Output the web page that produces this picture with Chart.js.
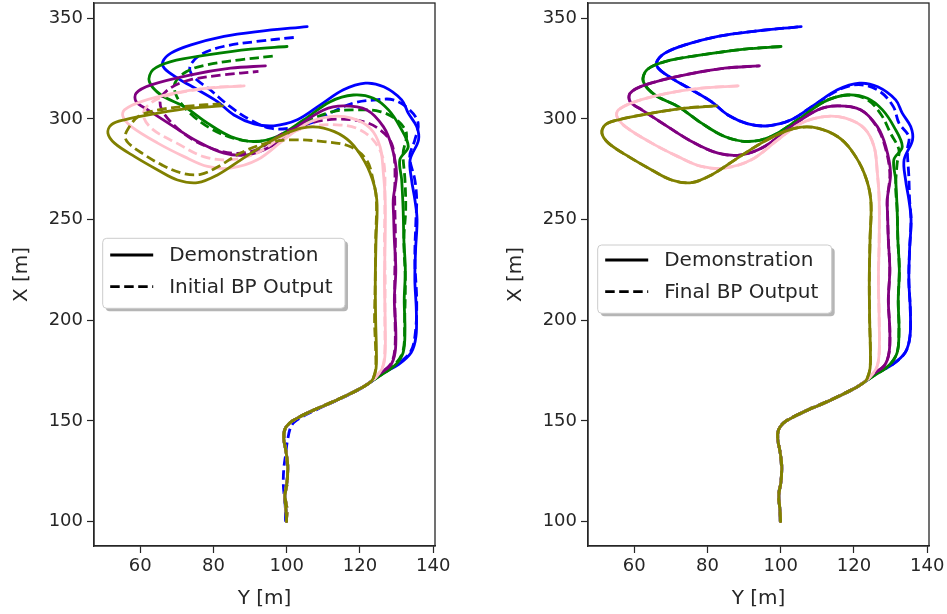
<!DOCTYPE html>
<html><head><meta charset="utf-8">
<script src="https://cdn.jsdelivr.net/npm/chart.js@4"></script>
<style>
html,body{margin:0;padding:0;background:#fff;}
#wrap{position:relative;width:947px;height:614px;overflow:hidden;}
canvas{position:absolute;top:0;}
</style></head><body>
<div id="wrap">
<canvas id="left" width="470" height="614" style="left:0px"></canvas>
<canvas id="right" width="453" height="614" style="left:494px"></canvas>
</div>
<script>
// Axis ticks
const xTicks = [60, 80, 100, 120, 140];          // horizontal axis "Y [m]"
const yTicks = [100, 150, 200, 250, 300, 350];   // vertical axis "X [m]"
const xRange = [47.4, 140.5];
const yRange = [87.9, 357.6];

// Points are [Y (horizontal), X (vertical)] in metres.
// Shared start (straight section + diagonal)
const baseDemo = [[100,100],[99.8,106],[99.5,113],[100.1,120],[100.3,128],[99.8,135],[99.2,141],[99.4,145.5],[100.8,149],[103.5,152],[107.5,155.5],[112,159],[116.5,162.8],[120.5,166.5],[123,169.5]];
const baseInit = [[99.9,100],[100.1,106],[99.6,113],[100.2,120],[100.2,128],[99.8,135],[99.3,141],[99.5,145.5],[100.9,149.1],[103.6,152.1],[107.5,155.5],[112,159.1],[116.5,162.8],[120.5,166.5],[123,169.5]];
const baseInitBlue = [[99.7,100],[99.6,108],[99.1,118],[99.2,126],[99.7,133],[100.2,140],[101.4,148],[104,151.8],[108,155.5],[112.3,159.1],[116.7,162.8],[120.6,166.5],[123.1,169.6]];
const baseFinal = [[99.9,100],[99.8,106],[99.4,113],[100.1,120],[100.2,128],[99.8,135],[99.2,141],[99.4,145.6],[100.8,149.1],[103.5,152.1],[107.5,155.6],[112,159.1],[116.5,162.9],[120.5,166.6],[123,169.6]];

// Demonstrations (upper part)
const demoBlue   = [[126,173.5],[130.5,178],[134,184],[135.3,192],[135.4,205],[135.0,220],[135.2,235],[135.6,250],[135.0,260],[134.1,269.8],[133.7,279.7],[136.0,289.6],[135.5,296.2],[133.2,302.9],[131.4,309.5],[126.5,316],[121.5,317.8],[115.5,314.5],[109.2,307.0],[102.9,299.6],[96.5,296.6],[91.1,297.6],[85.6,302.0],[81.1,308.6],[75.7,314.5],[70.2,320.3],[66.6,325.2],[66.2,328.5],[68.4,332.7],[73.9,336.8],[82.9,341.0],[92.0,343.4],[105.6,345.9]];
const demoGreen  = [[125.5,172.5],[129.5,177.5],[131.8,184],[132.3,195],[132.1,210],[132.4,225],[132.0,240],[131.8,255],[131.4,269.8],[130.9,279.7],[133.2,286.3],[130.9,296.2],[127.8,304.5],[123.7,310.3],[118.2,311.9],[111.9,308.6],[104.7,299.6],[97.4,291.3],[91.1,288.8],[84.7,291.3],[78.4,297.9],[72.0,306.2],[65.7,311.9],[62.5,318.6],[63.5,324.4],[68.4,328.5],[78.4,331.8],[90.2,334.7],[100.1,336.0]];
const demoPurple = [[125,173],[128.3,177.5],[129.6,184],[129.8,195],[129.4,210],[129.8,225],[129.4,240],[129.2,252],[129.1,260],[130.0,273.1],[128.7,286.3],[126.4,296.2],[121.9,304.5],[115.5,306.5],[110.1,304.5],[102.9,296.2],[95.6,286.3],[89.3,282.2],[82.9,283.0],[75.7,288.8],[68.4,297.1],[62.1,304.5],[58.9,308.6],[58.9,312.8],[63.0,316.9],[73.9,321.9],[84.7,325.2],[94.2,326.4]];
const demoPink   = [[124.5,172],[126.3,177],[126.9,184],[126.9,200],[126.7,220],[126.9,240],[126.9,260],[126.4,273.1],[125.5,286.3],[122.8,295.4],[117.7,300.4],[111.9,301.2],[105.6,297.9],[99.2,289.6],[92.0,279.7],[84.7,275.6],[78.4,276.4],[72.0,281.3],[64.8,288.0],[57.6,296.2],[55.3,301.2],[55.7,304.5],[60.3,308.6],[69.3,312.8],[78.4,315.3],[88.4,316.4]];
const demoOlive  = [[123.7,171.5],[124.4,176],[124.5,185],[124.3,200],[124.2,220],[124.4,240],[124.6,260],[122.8,273.1],[119.2,284.7],[115.5,291.3],[110.1,295.4],[105.6,295.9],[101.0,293.7],[94.7,288.0],[87.5,279.7],[81.1,272.2],[75.7,268.4],[70.2,269.7],[64.8,274.7],[58.5,281.3],[53.0,288.0],[51.2,292.9],[52.1,297.1],[55.7,299.6],[64.8,302.9],[73.9,305.4],[82.5,306.5]];

// Initial BP output (left panel, dashed)
const initBlue   = [[126,173.5],[130.5,178.5],[134,185],[135.2,195],[135.5,210],[135,230],[135.3,250],[135.5,260],[135.0,269.7],[133.6,281.3],[135.0,289.6],[135.9,297.9],[133.6,304.5],[129.1,309.5],[124.5,309.5],[118.2,307.9],[111.8,302.9],[106.4,297.9],[100.9,295.4],[95.5,295.4],[90.0,299.6],[84.5,306.2],[79.1,314.5],[74.5,321.1],[73.6,326.0],[76.4,331.8],[82.7,336.0],[91.8,338.5],[102.7,340.6]];
const initGreen  = [[125.5,172.5],[129.5,178],[131.8,185],[132.2,200],[132.4,220],[132.0,240],[132.5,255],[132.3,269.7],[131.8,283.0],[132.7,292.9],[130.0,299.6],[125.5,303.7],[119.1,304.5],[112.7,303.7],[105.5,298.7],[98.2,291.3],[91.8,288.8],[85.4,290.5],[79.1,295.4],[73.6,302.9],[70.0,311.1],[69.5,317.8],[72.7,323.6],[78.2,326.9],[87.3,329.4],[96.8,331.3]];
const initPurple = [[125,173],[128.3,178],[129.5,185],[129.6,200],[129.5,220],[129.7,240],[129.5,260],[129.5,278.0],[128.6,288.0],[125.5,294.6],[120.9,298.7],[113.6,299.9],[106.4,297.9],[99.1,292.9],[91.8,284.7],[85.4,283.0],[78.2,286.3],[71.8,292.9],[66.4,302.9],[65.5,309.5],[68.2,315.3],[73.6,319.4],[82.7,321.9],[92.3,323.6]];
const initPink   = [[124.5,172],[126.3,177.5],[126.8,185],[126.8,200],[126.9,220],[126.7,240],[126.8,260],[126.4,279.7],[123.6,289.6],[119.1,295.4],[113.6,297.1],[106.4,296.2],[99.1,291.3],[91.8,283.0],[84.5,279.7],[77.3,281.3],[70.0,288.0],[63.6,294.6],[60.9,301.2],[61.8,306.2],[66.4,311.1],[78.2,315.3],[87.7,316.4]];
const initOlive  = [[123.7,171.5],[124.3,176],[124.3,185],[124.0,200],[124.2,220],[124.3,240],[124.5,259.8],[123.6,269.7],[121.8,279.7],[117.3,286.3],[110.0,288.8],[100.9,289.6],[94.5,288.0],[87.3,283.0],[81.5,276.5],[76.5,272.5],[71.4,273.1],[65.9,277.2],[60.5,283.0],[56.8,288.0],[55.9,291.3],[56.8,295.4],[59.5,301.2],[65.0,304.5],[74.0,306.5],[82.0,307.5]];

// Final BP output (right panel, dashed)
const finalBlue   = [[126,173.5],[130.5,178],[134,184],[135.3,192],[135.4,205],[135.0,220],[135.2,235],[135.6,250],[135.2,260],[135.0,271.4],[134.6,284.7],[135.0,291.3],[132.3,297.9],[130.8,306],[127.2,313.5],[122,317],[116.5,315],[109.2,307.0],[102.9,299.6],[96.5,296.6],[91.1,297.6],[85.6,302.0],[81.1,308.6],[75.7,314.5],[70.2,320.3],[66.6,325.2],[66.2,328.5],[68.4,332.7],[73.9,336.8],[82.9,341.0],[92.0,343.4],[105.6,345.9]];
const finalGreen  = [[125.5,172.5],[129.5,177.5],[131.8,184],[132.3,195],[132.1,210],[132.4,225],[132.0,240],[131.8,255],[131.4,266.4],[131.8,278.0],[132.3,284.7],[130.0,292.9],[127.5,302],[123.7,309.5],[118.2,311.9],[111.9,308.6],[104.7,299.6],[97.4,291.3],[91.1,288.8],[84.7,291.3],[78.4,297.9],[72.0,306.2],[65.7,311.9],[62.5,318.6],[63.5,324.4],[68.4,328.5],[78.4,331.8],[90.2,334.7],[100.1,336.0]];
const finalPurple = [[125,173],[128.3,177.5],[129.6,184],[129.8,195],[129.4,210],[129.8,225],[129.4,240],[129.2,252],[129.1,260],[129.8,273.1],[128.5,286.3],[126.2,296.2],[121.9,304.5],[115.5,306.5],[110.1,304.5],[102.9,296.2],[95.6,286.3],[89.3,282.2],[82.9,283.0],[75.7,288.8],[68.4,297.1],[62.1,304.5],[58.9,308.6],[58.9,312.8],[63.0,316.9],[73.9,321.9],[84.7,325.2],[94.2,326.4]];
const finalPink   = [[124.5,172],[126.3,177],[126.9,184],[126.9,200],[126.7,220],[126.9,240],[126.9,260],[126.4,273.1],[125.5,286.3],[122.8,295.4],[117.7,300.4],[111.9,301.2],[105.6,297.9],[99.2,289.6],[92.0,279.7],[84.7,275.6],[78.4,276.4],[72.0,281.3],[64.8,288.0],[57.6,296.2],[55.3,301.2],[55.7,304.5],[60.3,308.6],[69.3,312.8],[78.4,315.3],[88.4,316.4]];
const finalOlive  = [[123.7,171.5],[124.4,176],[124.5,185],[124.3,200],[124.2,220],[124.4,240],[124.6,260],[122.8,273.1],[119.2,284.7],[115.5,291.3],[110.1,295.4],[105.6,295.9],[101.0,293.7],[94.7,288.0],[87.5,279.7],[81.1,272.2],[75.7,268.4],[70.2,269.7],[64.8,274.7],[58.5,281.3],[53.0,288.0],[51.2,292.9],[52.1,297.1],[55.7,299.6],[64.8,302.9],[73.9,305.4],[82.5,306.5]];

const colors = ['#0000ff', '#008000', '#800080', '#ffc0cb', '#808000'];
const legendLabels = ['Demonstration', 'Initial BP Output', 'Final BP Output'];
const axisTitles = ['Y [m]', 'X [m]'];

const FONT = 'DejaVu Sans';
const INK = '#262626';
const LW = 2.8;

function toPts(arr){ return arr.map(p => ({x:p[0], y:p[1]})); }

function buildDatasets(demos, outs, demoBase, outBases){
  const ds = [];
  for (let i = 0; i < colors.length; i++){
    ds.push({data: toPts(demoBase.concat(demos[i])), borderColor: colors[i], borderWidth: LW, borderCapStyle:'round', borderJoinStyle:'round'});
    ds.push({data: toPts(outBases[i].concat(outs[i])), borderColor: colors[i], borderWidth: LW, borderDash:[9.5,4.5], borderCapStyle:'butt', borderJoinStyle:'round'});
  }
  const n = ds.length;
  ds.forEach((d, k) => { d.order = n - k; d.showLine = true; d.pointRadius = 0; d.pointHoverRadius = 0; d.tension = 0.35; d.fill = false; });
  return ds;
}

const framePlugin = {
  id: 'frame',
  afterDatasetsDraw(chart){
    const a = chart.chartArea, ctx = chart.ctx;
    ctx.save();
    ctx.strokeStyle = INK; ctx.lineWidth = 1.3;
    ctx.strokeRect(a.left, a.top, a.right - a.left, a.bottom - a.top);
    ctx.restore();
  }
};

function legendPlugin(box, outLabel){
  return {
    id: 'boxLegend',
    afterDraw(chart){
      const ctx = chart.ctx;
      const {l, t, r, b, y1, y2} = box;
      ctx.save();
      function rr(x, y, w, h, rad){
        ctx.beginPath();
        ctx.moveTo(x + rad, y);
        ctx.lineTo(x + w - rad, y); ctx.quadraticCurveTo(x + w, y, x + w, y + rad);
        ctx.lineTo(x + w, y + h - rad); ctx.quadraticCurveTo(x + w, y + h, x + w - rad, y + h);
        ctx.lineTo(x + rad, y + h); ctx.quadraticCurveTo(x, y + h, x, y + h - rad);
        ctx.lineTo(x, y + rad); ctx.quadraticCurveTo(x, y, x + rad, y);
        ctx.closePath();
      }
      ctx.fillStyle = 'rgba(120,120,120,0.55)';
      rr(l + 3, t + 3, r - l, b - t, 4); ctx.fill();
      ctx.fillStyle = '#ffffff';
      rr(l, t, r - l, b - t, 4); ctx.fill();
      ctx.strokeStyle = '#cccccc'; ctx.lineWidth = 1;
      rr(l, t, r - l, b - t, 4); ctx.stroke();
      ctx.strokeStyle = '#000'; ctx.lineWidth = LW;
      ctx.beginPath(); ctx.moveTo(l + 7.5, y1); ctx.lineTo(l + 50.5, y1); ctx.stroke();
      ctx.setLineDash([9.5, 4.5]);
      ctx.beginPath(); ctx.moveTo(l + 7.5, y2); ctx.lineTo(l + 50.5, y2); ctx.stroke();
      ctx.setLineDash([]);
      ctx.fillStyle = INK; ctx.font = '20px "' + FONT + '"';
      ctx.textBaseline = 'middle'; ctx.textAlign = 'left';
      ctx.fillText(legendLabels[0], l + 66.5, y1 + 1);
      ctx.fillText(outLabel, l + 66.5, y2 + 1);
      ctx.restore();
    }
  };
}

function makeChart(id, canvasWidth, datasets, box, outLabel){
  const tickFont = {family: FONT, size: 18};
  const titleFont = {family: FONT, size: 20};
  return new Chart(document.getElementById(id), {
    type: 'scatter',
    data: {datasets},
    options: {
      responsive: false, animation: false,
      layout: {padding: {top: 3, right: canvasWidth - 435, left: 0, bottom: 0}},
      plugins: {legend: {display: false}, tooltip: {enabled: false}},
      scales: {
        x: {
          type: 'linear', min: xRange[0], max: xRange[1],
          afterBuildTicks: s => { s.ticks = xTicks.map(v => ({value: v})); },
          afterFit: s => { s.height = 68; s.paddingLeft = 0; s.paddingRight = 0; },
          ticks: {font: tickFont, color: INK, padding: 3, maxRotation: 0, autoSkip: false},
          grid: {drawOnChartArea: false, drawTicks: true, tickLength: 7, color: INK, tickWidth: 1.2},
          border: {display: true, color: INK, width: 1.3},
          title: {display: true, text: axisTitles[0], font: titleFont, color: INK, padding: {top: 0, bottom: 3}}
        },
        y: {
          type: 'linear', min: yRange[0], max: yRange[1],
          afterBuildTicks: s => { s.ticks = yTicks.map(v => ({value: v})); },
          afterFit: s => { s.width = 94; s.paddingTop = 0; s.paddingBottom = 0; },
          ticks: {font: tickFont, color: INK, padding: 4, autoSkip: false},
          grid: {drawOnChartArea: false, drawTicks: true, tickLength: 7, color: INK, tickWidth: 1.2},
          border: {display: true, color: INK, width: 1.3},
          title: {display: true, text: axisTitles[1], font: titleFont, color: INK, padding: {top: 10, bottom: 0}}
        }
      }
    },
    plugins: [framePlugin, legendPlugin(box, outLabel)]
  });
}

const demos = [demoBlue, demoGreen, demoPurple, demoPink, demoOlive];
const inits = [initBlue, initGreen, initPurple, initPink, initOlive];
const finals = [finalBlue, finalGreen, finalPurple, finalPink, finalOlive];

makeChart('left', 470,
  buildDatasets(demos, inits, baseDemo, [baseInitBlue, baseInit, baseInit, baseInit, baseInit]),
  {l: 102.7, t: 238.3, r: 345, b: 308.3, y1: 255, y2: 286.7}, legendLabels[1]);
makeChart('right', 453,
  buildDatasets(demos, finals, baseDemo, [baseFinal, baseFinal, baseFinal, baseFinal, baseFinal]),
  {l: 103.7, t: 245, r: 337.7, b: 313.3, y1: 260, y2: 291.7}, legendLabels[2]);
</script>
</body></html>
